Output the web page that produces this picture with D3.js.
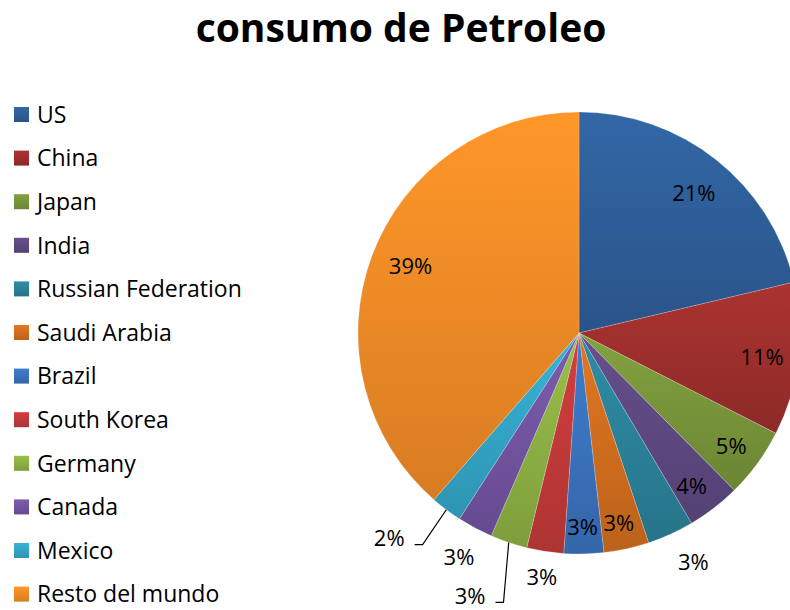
<!DOCTYPE html>
<html>
<head>
<meta charset="utf-8">
<script src="https://cdn.jsdelivr.net/npm/d3@7"></script>
<style>
  html, body { margin: 0; padding: 0; background: #fff; }
  svg text { font-family: "Open Sans", "Noto Sans", sans-serif; }
</style>
</head>
<body>
<div id="chart"></div>
<script>
// data
const countries = ["US", "China", "Japan", "India", "Russian Federation", "Saudi Arabia",
  "Brazil", "South Korea", "Germany", "Canada", "Mexico", "Resto del mundo"];
const consumption = [21.3, 11.2, 5.1, 3.9, 3.4, 3.3, 2.9, 2.7, 2.7, 2.6, 2.3, 38.6];
const sliceColors = ["#2E5E98", "#9C2F2C", "#77943A", "#5E4880", "#2A8199", "#D06D1E",
  "#3A72BC", "#C13A39", "#8CB043", "#7253A0", "#33A5C6", "#F08A26"];
const title = "consumo de Petroleo";

// layout
const config = {
  width: 790,
  height: 610,
  cx: 579,
  cy: 333,
  radius: 221,
  legendX: 14,
  legendY: 107,
  legendStep: 43.6,
  swatch: 15,
  labelSize: 22,
};

// where each label sits: k = radius factor, da = angle shift (deg), leader = draw a line
const labelPlace = {
  "US": { k: 0.82, da: 1 },
  "China": { k: 0.835, da: 0.6 },
  "Japan": { k: 0.86, da: 0.6 },
  "India": { k: 0.86, da: 1.3 },
  "Russian Federation": { k: 1.16, da: -2 },
  "Saudi Arabia": { k: 0.88, da: 0.6 },
  "Brazil": { k: 0.88, da: 0.2 },
  "South Korea": { k: 1.12, da: -0.2 },
  "Germany": { k: 1.265, da: 1.0, leader: true },
  "Canada": { k: 1.15, da: 0.1 },
  "Mexico": { k: 1.22, da: 3.4, leader: true },
  "Resto del mundo": { k: 0.82, da: 1.1 },
};

const rows = countries.map((c, i) => ({ name: c, value: consumption[i], color: sliceColors[i] }));
const total = d3.sum(consumption);
const fmt = d3.format(".0%");

const svg = d3.select("#chart").append("svg")
  .attr("width", config.width)
  .attr("height", config.height);

const defs = svg.append("defs");
rows.forEach((d, i) => {
  const g = defs.append("linearGradient")
    .attr("id", `grad-${i}`)
    .attr("x1", 0).attr("y1", 0).attr("x2", 0).attr("y2", 1);
  g.append("stop").attr("offset", "0%").attr("stop-color", d3.color(d.color).brighter(0.25));
  g.append("stop").attr("offset", "100%").attr("stop-color", d3.color(d.color).darker(0.3));
});

// title
svg.append("text")
  .attr("x", 401)
  .attr("y", 42)
  .attr("text-anchor", "middle")
  .style("font-size", "39px")
  .style("font-weight", "bold")
  .attr("fill", "#000")
  .text(title);

// pie
const pie = d3.pie().sort(null).value(d => d.value);
const arcs = pie(rows);
const arc = d3.arc().innerRadius(0).outerRadius(config.radius);

const pieG = svg.append("g")
  .attr("transform", `translate(${config.cx},${config.cy})`);

pieG.selectAll("path.slice")
  .data(arcs)
  .enter()
  .append("path")
  .attr("class", "slice")
  .attr("d", arc)
  .attr("fill", (d, i) => `url(#grad-${i})`)
  .attr("stroke", "rgba(255,255,255,0.35)")
  .attr("stroke-width", 0.6);

const polar = (angleDeg, r) => {
  const a = angleDeg * Math.PI / 180;
  return [Math.sin(a) * r, -Math.cos(a) * r];
};

arcs.forEach(d => {
  const place = labelPlace[d.data.name];
  const mid = (d.startAngle + d.endAngle) / 2 * 180 / Math.PI;
  const [lx, ly] = polar(mid + place.da, place.k * config.radius);
  const label = fmt(d.data.value / total);
  pieG.append("text")
    .attr("x", lx)
    .attr("y", ly)
    .attr("dy", "0.35em")
    .attr("text-anchor", place.leader ? "end" : "middle")
    .style("font-size", `${config.labelSize}px`)
    .attr("fill", "#000")
    .text(label);
  if (place.leader) {
    // leader line: slice edge -> elbow beside the label -> short tick
    const [sx, sy] = polar(mid, config.radius);
    const ex = lx + 18, ey = ly + 6;
    pieG.append("polyline")
      .attr("points", `${sx},${sy} ${ex},${ey} ${lx + 10},${ey}`)
      .attr("fill", "none")
      .attr("stroke", "#000")
      .attr("stroke-width", 1.2);
  }
});

// legend
const legend = svg.append("g")
  .attr("transform", `translate(${config.legendX},${config.legendY})`);

const item = legend.selectAll("g.item")
  .data(rows)
  .enter()
  .append("g")
  .attr("class", "item")
  .attr("transform", (d, i) => `translate(0,${i * config.legendStep})`);

item.append("rect")
  .attr("width", config.swatch)
  .attr("height", config.swatch)
  .attr("fill", (d, i) => `url(#grad-${i})`);

item.append("text")
  .attr("x", 23)
  .attr("y", config.swatch / 2)
  .attr("dy", "0.36em")
  .style("font-size", "23px")
  .attr("fill", "#000")
  .text(d => d.name);
</script>
</body>
</html>
